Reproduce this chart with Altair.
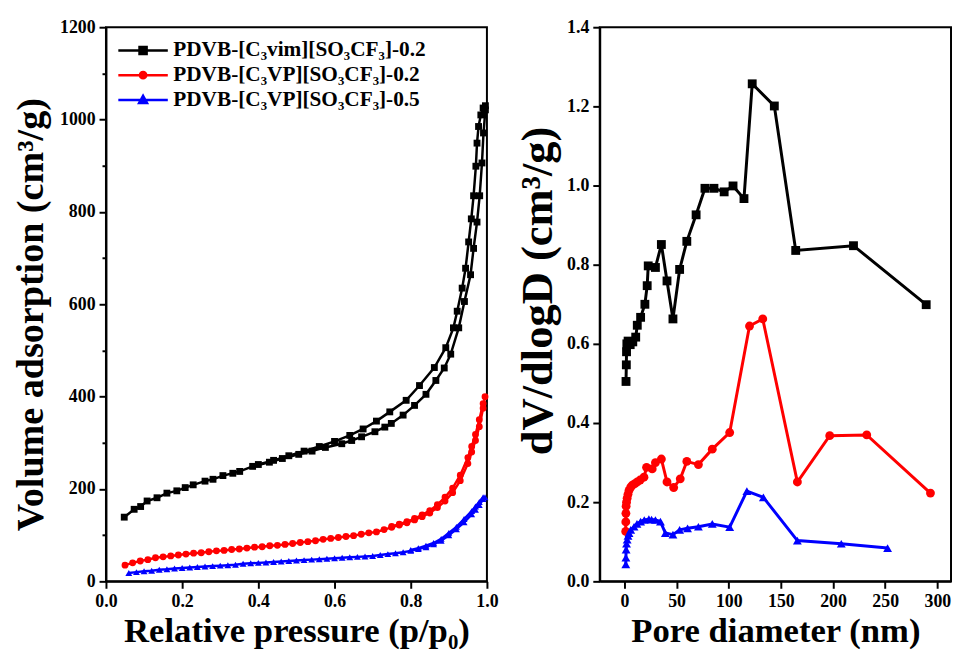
import altair as alt
import pandas as pd

# ---------------- data ----------------
NAMES = ["PDVB-[C₃vim][SO₃CF₃]-0.2", "PDVB-[C₃VP][SO₃CF₃]-0.2", "PDVB-[C₃VP][SO₃CF₃]-0.5"]
KEYS = ["a", "b", "c"]
COLORS = ["#000000", "#ff0000", "#0000ff"]
SHAPES = ["square", "circle", "triangle-up"]

# left: N2 isotherms, adsorption (ads) and desorption (des) branches
blk_ads_p = [0.048, 0.074, 0.091, 0.108, 0.134, 0.160, 0.186, 0.208, 0.229, 0.260, 0.281, 0.307, 0.333, 0.351,
             0.385, 0.429, 0.463, 0.506, 0.541, 0.576, 0.619, 0.645, 0.671, 0.706, 0.732, 0.749, 0.780, 0.810,
             0.840, 0.866, 0.888, 0.905, 0.926, 0.941, 0.957, 0.965, 0.974, 0.981, 0.987, 0.991, 0.996]
blk_ads_v = [139, 156, 162, 174, 181, 191, 196, 203, 209, 217, 221, 229, 234, 238, 249, 258, 266, 275, 282, 290,
             298, 305, 313, 324, 334, 342, 360, 381, 405, 435, 462, 492, 549, 606, 664, 721, 778, 835, 906, 971, 1021]
blk_des_p = [0.996, 0.990, 0.984, 0.978, 0.974, 0.971, 0.965, 0.959, 0.952, 0.944, 0.935, 0.922, 0.912, 0.892,
             0.862, 0.823, 0.788, 0.745, 0.710, 0.675, 0.640, 0.600, 0.560, 0.520, 0.480, 0.440, 0.400]
blk_des_v = [1030, 1025, 1010, 985, 949, 899, 835, 785, 735, 678, 635, 585, 549, 506, 463, 424, 392, 367, 347,
             330, 316, 303, 292, 282, 272, 262, 253]

red_ads_p = [0.05, 0.07, 0.09, 0.11, 0.13, 0.15, 0.17, 0.19, 0.21, 0.23, 0.25, 0.27, 0.29, 0.31, 0.33, 0.35,
             0.37, 0.39, 0.41, 0.43, 0.45, 0.47, 0.49, 0.51, 0.53, 0.55, 0.57, 0.59, 0.61, 0.63, 0.65, 0.67,
             0.69, 0.71, 0.73, 0.75, 0.77, 0.79, 0.81, 0.83, 0.85, 0.87, 0.89, 0.91, 0.93, 0.95, 0.96, 0.97,
             0.98, 0.99, 0.995]
red_ads_v = [35, 40, 44, 47, 51, 53, 55, 57, 59, 61, 62, 64, 66, 67, 69, 70, 72, 74, 75, 77, 78, 80, 82, 84, 86,
             88, 91, 93, 95, 97, 99, 102, 105, 107, 112, 117, 122, 127, 133, 140, 148, 160, 174, 192, 218, 255,
             280, 305, 335, 375, 400]
red_des_p = [0.99, 0.98, 0.97, 0.96, 0.95, 0.93, 0.91, 0.89, 0.87, 0.85, 0.83, 0.81, 0.79, 0.77, 0.75]
red_des_v = [385, 350, 318, 292, 268, 230, 202, 182, 166, 153, 144, 136, 129, 124, 119]

blu_ads_p = [0.06, 0.08, 0.10, 0.12, 0.14, 0.16, 0.18, 0.20, 0.22, 0.24, 0.26, 0.28, 0.30, 0.32, 0.34, 0.36,
             0.38, 0.40, 0.42, 0.44, 0.46, 0.48, 0.50, 0.52, 0.54, 0.56, 0.58, 0.60, 0.62, 0.64, 0.66, 0.68,
             0.70, 0.72, 0.74, 0.76, 0.78, 0.80, 0.82, 0.84, 0.86, 0.88, 0.90, 0.92, 0.94, 0.96, 0.97, 0.98,
             0.99, 0.995]
blu_ads_v = [18, 20, 22, 23, 25, 26, 28, 29, 30, 31, 32, 33, 34, 35, 36, 38, 39, 40, 41, 42, 43, 44, 45, 46, 47,
             48, 49, 50, 51, 52, 53, 54, 55, 57, 59, 61, 63, 66, 70, 74, 80, 88, 100, 113, 128, 145, 155, 165,
             178, 182]
blu_des_p = [0.99, 0.98, 0.97, 0.96, 0.94, 0.92, 0.90, 0.88, 0.86, 0.84, 0.82, 0.80]
blu_des_v = [182, 172, 162, 152, 135, 118, 105, 92, 83, 77, 72, 68]

# right: pore size distributions
blk_d = [1.5, 1.8, 2.0, 2.3, 3.5, 5.5, 8.0, 10.8, 12.3, 15.5, 19.6, 21.8, 22.8, 29.7, 35.4, 40.8, 46.5, 52.9,
         59.8, 68.7, 77.2, 85.8, 95.6, 104.1, 114.6, 122.5, 143.7, 164.2, 219.6, 289.3]
blk_y = [0.505, 0.547, 0.580, 0.600, 0.607, 0.598, 0.605, 0.617, 0.647, 0.667, 0.700, 0.747, 0.797, 0.793,
         0.851, 0.759, 0.663, 0.788, 0.859, 0.926, 0.993, 0.993, 0.984, 0.999, 0.967, 1.257, 1.201, 0.836,
         0.848, 0.699]
red_d = [1.2, 1.3, 1.4, 1.6, 2.0, 2.6, 3.4, 4.4, 6.0, 7.6, 10.0, 12.3, 15.0, 18.7, 21.2, 26.6, 29.7, 35.4,
         40.8, 47.2, 53.5, 59.8, 70.9, 84.2, 100.9, 119.9, 132.6, 165.8, 196.8, 232.3, 293.4]
red_y = [0.126, 0.150, 0.172, 0.190, 0.200, 0.210, 0.220, 0.230, 0.238, 0.243, 0.247, 0.251, 0.256, 0.263,
         0.288, 0.284, 0.300, 0.309, 0.251, 0.237, 0.259, 0.303, 0.295, 0.334, 0.376, 0.645, 0.663, 0.251,
         0.368, 0.370, 0.223]
blu_d = [1.3, 1.4, 1.6, 2.0, 2.6, 3.4, 4.4, 6.0, 9.2, 12.0, 15.5, 19.0, 23.4, 26.0, 29.7, 34.5, 39.2, 46.5,
         52.9, 60.5, 70.9, 84.2, 100.9, 117.4, 133.2, 165.8, 207.9, 252.3]
blu_y = [0.043, 0.060, 0.080, 0.095, 0.105, 0.115, 0.122, 0.130, 0.138, 0.145, 0.151, 0.155, 0.157, 0.156,
         0.155, 0.151, 0.122, 0.118, 0.130, 0.134, 0.138, 0.145, 0.137, 0.228, 0.212, 0.103, 0.095, 0.084]

# ---------------- tables ----------------
rows = []
for name, key, branches in [
        (NAMES[0], KEYS[0], [("ads", blk_ads_p, blk_ads_v), ("des", blk_des_p, blk_des_v)]),
        (NAMES[1], KEYS[1], [("ads", red_ads_p, red_ads_v), ("des", red_des_p, red_des_v)]),
        (NAMES[2], KEYS[2], [("ads", blu_ads_p, blu_ads_v), ("des", blu_des_p, blu_des_v)])]:
    for br, ps, vs in branches:
        for i, (p, v) in enumerate(zip(ps, vs)):
            rows.append({"p": p, "v": v, "s": name, "m": key, "br": key + br, "i": i})
iso = pd.DataFrame(rows)

rows = []
for name, key, ds, ys in [(NAMES[0], KEYS[0], blk_d, blk_y), (NAMES[1], KEYS[1], red_d, red_y),
                          (NAMES[2], KEYS[2], blu_d, blu_y)]:
    for i, (d, y) in enumerate(zip(ds, ys)):
        rows.append({"d": d, "y": y, "s": name, "m": key, "i": i})
psd = pd.DataFrame(rows)

FONT = "Liberation Serif"
color_scale = alt.Scale(domain=NAMES, range=COLORS)
shape_scale = alt.Scale(domain=KEYS, range=SHAPES)

# legend symbols: a line with the marker on it
SQ = "M-2.5,0H2.5M-0.36,-0.36H0.36V0.36H-0.36Z"
CI = "M-2.5,0H2.5M-0.32,0A0.32,0.32 0 1,0 0.32,0A0.32,0.32 0 1,0 -0.32,0Z"
TR = "M-2.5,0H2.5M0,-0.42L0.4,0.3H-0.4Z"


def per_entry(vals):
    return alt.ExprRef(expr="datum.value === '%s' ? '%s' : (datum.value === '%s' ? '%s' : '%s')"
                       % (NAMES[0], vals[0], NAMES[1], vals[1], vals[2]))


legend = alt.Legend(
    orient="none", legendX=26, legendY=12, title=None, padding=0,
    symbolSize=400, labelOffset=19, rowPadding=3, labelLimit=0,
    labelFont=FONT, labelFontSize=21.5, labelFontWeight="bold", labelColor="black",
    symbolStrokeWidth=2.5, symbolType=per_entry([SQ, CI, TR]),
    symbolFillColor=per_entry(COLORS), symbolStrokeColor=per_entry(COLORS), symbolOpacity=1,
)


def axis(title, values, test, fmt, **kw):
    return alt.Axis(
        title=title, values=values,
        labelExpr="(%s) ? format(datum.value, '%s') : ''" % (test, fmt),
        tickSize={"condition": {"test": test, "value": 7}, "value": 4},
        labelOverlap=False, labelFlush=False, **kw)


# ---------------- left panel ----------------
lx = alt.X("p:Q", scale=alt.Scale(domain=[0, 1], nice=False, zero=False),
           axis=axis("Relative pressure (p/p₀)", [round(i * 0.1, 1) for i in range(11)],
                     "round(datum.value*10)%2===0", ".1f", titleFontSize=35, titlePadding=4))
ly = alt.Y("v:Q", scale=alt.Scale(domain=[0, 1200], nice=False),
           axis=axis("Volume adsorption (cm³/g)", list(range(0, 1201, 100)),
                     "datum.value%200===0", "d", titleFontSize=38.5, titlePadding=9, titleY=290))

left_lines = alt.Chart(iso).mark_line(strokeWidth=2.5).encode(
    x=lx, y=ly, detail="br:N", order="i:Q",
    color=alt.Color("s:N", scale=color_scale, legend=legend))
left_pts = alt.Chart(iso).mark_point(filled=True, opacity=1, size=48).encode(
    x="p:Q", y="v:Q",
    color=alt.Color("s:N", scale=color_scale, legend=None),
    shape=alt.Shape("m:N", scale=shape_scale, legend=None))
left = alt.layer(left_lines, left_pts).properties(width=385, height=560)

# ---------------- right panel ----------------
rx = alt.X("d:Q", scale=alt.Scale(domain=[-23.7, 313.1], nice=False, zero=False),
           axis=axis("Pore diameter (nm)", list(range(0, 301, 25)),
                     "datum.value%50===0", "d", titleFontSize=35, titlePadding=4))
ry = alt.Y("y:Q", scale=alt.Scale(domain=[0, 1.4], nice=False),
           axis=axis("dV/dlogD (cm³/g)", [round(i * 0.1, 1) for i in range(15)],
                     "round(datum.value*10)%2===0", ".1f", titleFontSize=45, titlePadding=6, titleY=266))

right_lines = alt.Chart(psd).mark_line(strokeWidth=3).encode(
    x=rx, y=ry, detail="s:N", order="i:Q",
    color=alt.Color("s:N", scale=color_scale, legend=None))
right_pts = alt.Chart(psd).mark_point(filled=True, opacity=1, size=80).encode(
    x="d:Q", y="y:Q",
    color=alt.Color("s:N", scale=color_scale, legend=None),
    shape=alt.Shape("m:N", scale=shape_scale, legend=None))
right = alt.layer(right_lines, right_pts).properties(width=355, height=560)

chart = alt.hconcat(left, right, spacing=15).resolve_scale(
    color="independent", shape="independent"
).properties(
    padding={"left": 3, "top": 6, "right": 0, "bottom": 0}, background="white"
).configure_view(
    stroke="black", strokeWidth=2
).configure_axis(
    domainColor="black", domainWidth=2, tickColor="black", tickWidth=2,
    labelFont=FONT, labelFontSize=18, labelFontWeight="bold", labelColor="black", labelPadding=4,
    titleFont=FONT, titleFontWeight="bold", titleColor="black", grid=False
)

chart.save("out.html", embed_options={"renderer": "svg", "actions": False})
